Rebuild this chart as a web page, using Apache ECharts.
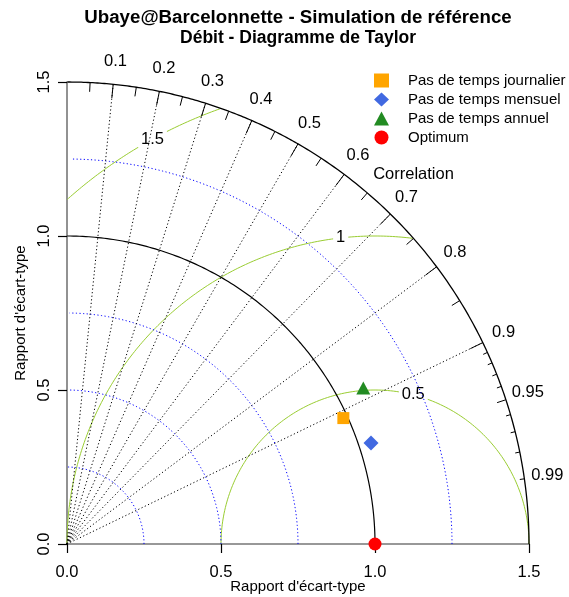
<!DOCTYPE html>
<html>
<head>
<meta charset="utf-8">
<script src="https://cdn.jsdelivr.net/npm/echarts@6/dist/echarts.min.js"></script>
<style>
html,body{margin:0;padding:0;background:#fff;}
#chart{width:569px;height:597px;}
</style>
</head>
<body>
<div id="chart"></div>
<script>
// ---- data ----
var titleText = 'Ubaye@Barcelonnette - Simulation de référence';
var subtitleText = 'Débit - Diagramme de Taylor';
var seriesNames = ['Pas de temps journalier', 'Pas de temps mensuel', 'Pas de temps annuel', 'Optimum'];
var sdRatio = [0.986, 1.040, 1.087, 1.0];
var correlation = [0.910, 0.949, 0.885, 1.0];
var xTickLabels = ['0.0', '0.5', '1.0', '1.5'];
var corrLabelValues = [0.1, 0.2, 0.3, 0.4, 0.5, 0.6, 0.7, 0.8, 0.9, 0.95, 0.99];
var corrLineValues = [0.1, 0.2, 0.3, 0.4, 0.5, 0.6, 0.7, 0.8, 0.9];
var corrMedTicks = [0.05, 0.15, 0.25, 0.35, 0.45, 0.55, 0.65, 0.75, 0.85, 0.95];
var corrSmallTicks = [0.91, 0.92, 0.93, 0.94, 0.96, 0.97, 0.98, 0.99];
var sdArcs = [0.25, 0.5, 0.75, 1.25];
var rmsArcs = [0.5, 1, 1.5];
var rmsLabels = ['0.5', '1', '1.5'];
var maxSd = 1.5;
var refSd = 1.0;

// ---- layout constants ----
var rmsLabelAngles = [75.6, 96.4, 118.8];
var colors = ['#FFA500', '#4169E1', '#228B22', '#FF0000'];
var symbols = ['rect', 'diamond', 'triangle', 'circle'];
var symSizes = [12, 15, [14, 13], 13];
var font = 'Liberation Sans, Arial, sans-serif';

function polarPt(r, corr) {
  var a = Math.acos(corr);
  return [r * Math.cos(a), r * Math.sin(a)];
}
function arc(r, a0, a1, step) {
  var pts = [];
  for (var a = a0; a <= a1 + 1e-9; a += step) pts.push([r * Math.cos(a), r * Math.sin(a)]);
  return pts;
}
function textSeries(points, names, z, extra) {
  var lbl = {show: true, position: 'inside', formatter: function (p) { return p.name; }, color: '#000',
    fontSize: 16.5, fontFamily: font, opacity: 1};
  for (var k in (extra || {})) lbl[k] = extra[k];
  return {type: 'scatter', symbolSize: 1, silent: true, z: z, clip: false,
    itemStyle: {color: 'rgba(255,255,255,0)', opacity: 1},
    data: points.map(function (p, i) { return {value: p, name: names[i]}; }),
    label: lbl};
}

var series = [];

// green RMS arcs centered on (refSd,0)
rmsArcs.forEach(function (g, i) {
  var pts = [];
  for (var k = 0; k <= 1000; k++) {
    var a = Math.PI * k / 1000;
    var x = refSd + g * Math.cos(a), y = g * Math.sin(a);
    if (x < 0 || x * x + y * y > maxSd * maxSd + 1e-9) continue;
    pts.push([x, y]);
  }
  series.push({type: 'line', data: pts, showSymbol: false, silent: true, z: 1,
    lineStyle: {color: '#9ACD32', width: 1}, clip: false});
  var la = rmsLabelAngles[i] * Math.PI / 180;
  series.push(textSeries([[refSd + g * Math.cos(la), g * Math.sin(la)]], [rmsLabels[i]], 1,
    {backgroundColor: '#fff', padding: [0, 3, 0, 3]}));
});

// blue sd arcs
sdArcs.forEach(function (r) {
  series.push({type: 'line', data: arc(r, 0, 1.56, 0.01), showSymbol: false, silent: true, z: 2,
    lineStyle: {color: '#0000FF', width: 1, type: [1.2, 2.4]}, clip: false});
});

// correlation dotted lines
corrLineValues.forEach(function (c) {
  series.push({type: 'line', data: [[0, 0], polarPt(maxSd, c)], showSymbol: false, silent: true, z: 2,
    lineStyle: {color: '#000', width: 1, type: [1.2, 2.4]}, clip: false});
});

// reference sd arc and outer arc
series.push({type: 'line', data: arc(refSd, 0, Math.PI / 2, 0.005), showSymbol: false, silent: true, z: 3,
  lineStyle: {color: '#000', width: 1.2}, clip: false});
series.push({type: 'line', data: arc(maxSd, 0, Math.PI / 2, 0.005), showSymbol: false, silent: true, z: 3,
  lineStyle: {color: '#000', width: 1.3}, clip: false});

// ticks on outer arc
function tickSeries(vals, frac) {
  vals.forEach(function (c) {
    series.push({type: 'line', data: [polarPt(maxSd, c), polarPt(maxSd * frac, c)], showSymbol: false,
      silent: true, z: 3, lineStyle: {color: '#000', width: 1}, clip: false});
  });
}
tickSeries(corrLineValues, 0.97);
tickSeries(corrMedTicks, 0.98);
tickSeries(corrSmallTicks, 0.99);

// correlation labels
series.push(textSeries(corrLabelValues.map(function (c) { return polarPt(maxSd * 1.05, c); }),
  corrLabelValues.map(String), 3));
series.push(textSeries([[0.75 * maxSd, 0.8 * maxSd]], ['Correlation'], 3));

// data points
seriesNames.forEach(function (n, i) {
  series.push({type: 'scatter', name: n, symbol: symbols[i], symbolSize: symSizes[i], z: 5, clip: false,
    itemStyle: {color: colors[i], opacity: 1},
    data: [polarPt(sdRatio[i], correlation[i])]});
});

var chart = echarts.init(document.getElementById('chart'), null, {renderer: 'canvas'});
chart.setOption({
  animation: false,
  backgroundColor: '#fff',
  graphic: [
    {type: 'text', x: 298, y: 18, silent: true,
      style: {text: titleText, fill: '#000', fontSize: 18.7, fontWeight: 'bold', fontFamily: font,
        textAlign: 'center', textVerticalAlign: 'middle'}},
    {type: 'text', x: 298, y: 38.5, silent: true,
      style: {text: subtitleText, fill: '#000', fontSize: 17.5, fontWeight: 'bold', fontFamily: font,
        textAlign: 'center', textVerticalAlign: 'middle'}}
  ],
  legend: {
    orient: 'vertical', left: 374, top: 73, itemWidth: 15, itemHeight: 14, itemGap: 4,
    padding: 0,
    data: seriesNames,
    textStyle: {fontSize: 15, color: '#000', fontFamily: font, padding: [0, 0, 0, 14]}
  },
  grid: {left: 67, top: 82, width: 462, height: 462, outerBoundsMode: 'none', containLabel: false},
  xAxis: {
    type: 'value', min: 0, max: 1.5, interval: 0.5,
    name: "Rapport d'écart-type", nameLocation: 'middle', nameGap: 35, nameMoveOverlap: false,
    nameTextStyle: {fontSize: 15, color: '#000', fontFamily: font},
    axisLine: {lineStyle: {color: '#777', width: 1.6}},
    axisTick: {show: true, length: 9, lineStyle: {color: '#000', width: 1.2}},
    axisLabel: {fontSize: 16.5, color: '#000', fontFamily: font, margin: 20,
      formatter: function (v) { return xTickLabels[Math.round(v / 0.5)]; }},
    splitLine: {show: false}
  },
  yAxis: {
    type: 'value', min: 0, max: 1.5, interval: 0.5,
    name: "Rapport d'écart-type", nameLocation: 'middle', nameGap: 39, nameRotate: 90, nameMoveOverlap: false,
    nameTextStyle: {fontSize: 15, color: '#000', fontFamily: font},
    axisLine: {lineStyle: {color: '#777', width: 1.6}},
    axisTick: {show: true, length: 9, lineStyle: {color: '#000', width: 1.2}},
    axisLabel: {fontSize: 16.5, color: '#000', fontFamily: font, margin: 14, rotate: 90,
      formatter: function (v) { return xTickLabels[Math.round(v / 0.5)]; }},
    splitLine: {show: false}
  },
  series: series
});
</script>
</body>
</html>
